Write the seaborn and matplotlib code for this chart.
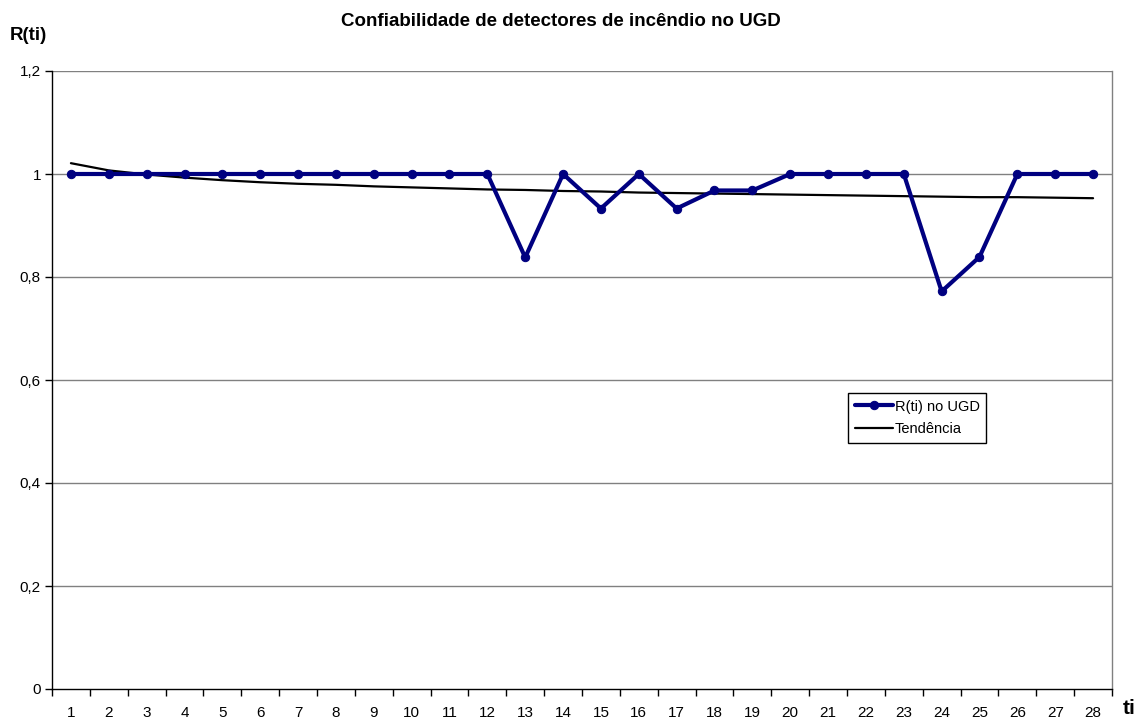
import matplotlib
matplotlib.use("Agg")
import matplotlib.pyplot as plt
import seaborn as sns
import pandas as pd
from matplotlib.ticker import FixedLocator, NullFormatter, FixedFormatter

ti = list(range(1, 29))
r_ti = [1, 1, 1, 1, 1, 1, 1, 1, 1, 1, 1, 1, 0.838, 1, 0.933, 1, 0.933, 0.968, 0.968,
        1, 1, 1, 1, 0.772, 0.839, 1, 1, 1]
tendencia = [1.021, 1.007, 0.999, 0.993, 0.988, 0.984, 0.981, 0.979, 0.976, 0.974,
             0.972, 0.970, 0.969, 0.967, 0.966, 0.964, 0.963, 0.962, 0.961, 0.960,
             0.959, 0.958, 0.957, 0.956, 0.955, 0.955, 0.954, 0.953]
y_ticks = [0, 0.2, 0.4, 0.6, 0.8, 1.0, 1.2]
y_tick_labels = ["0", "0,2", "0,4", "0,6", "0,8", "1", "1,2"]

sns.set_theme(style="white")
plt.rcParams['font.family'] = ['Liberation Sans', 'DejaVu Sans']
plt.rcParams['text.color'] = 'black'

fig = plt.figure(figsize=(11.42, 7.24), dpi=100)
ax = fig.add_axes([52/1142, 35/724, 1060/1142, 618/724])

df = pd.DataFrame({"ti": ti, "R(ti) no UGD": r_ti, "Tendência": tendencia})

for y in y_ticks[1:]:
    ax.axhline(y, color="#808080", lw=1, zorder=0)

sns.lineplot(data=df, x="ti", y="Tendência", ax=ax, color="black", lw=1.6,
             label="Tendência", zorder=2)
sns.lineplot(data=df, x="ti", y="R(ti) no UGD", ax=ax, color="#000080", lw=3,
             marker="o", markersize=6, markeredgecolor="#000080",
             label="R(ti) no UGD", zorder=3)

ax.set_xlim(0.5, 28.5)
ax.set_ylim(0, 1.2)
ax.set_xlabel("")
ax.set_ylabel("")

ax.xaxis.set_major_locator(FixedLocator([i + 0.5 for i in range(0, 29)]))
ax.xaxis.set_major_formatter(NullFormatter())
ax.xaxis.set_minor_locator(FixedLocator(ti))
ax.xaxis.set_minor_formatter(FixedFormatter([str(t) for t in ti]))
ax.tick_params(axis="x", which="major", direction="out", length=5, width=1, color="black", bottom=True)
ax.tick_params(axis="x", which="minor", length=0, labelsize=11, pad=12, colors="black", bottom=True)
ax.set_yticks(y_ticks)
ax.set_yticklabels(y_tick_labels)
ax.tick_params(axis="y", direction="out", length=5, width=1, color="black", left=True,
               labelsize=11, pad=3, labelcolor="black")

for s in ["left", "bottom"]:
    ax.spines[s].set_color("black")
    ax.spines[s].set_linewidth(1)
ax.spines["right"].set_color("#808080")
ax.spines["right"].set_linewidth(1)
ax.spines["top"].set_visible(False)

h, l = ax.get_legend_handles_labels()
leg = ax.legend(h[::-1], l[::-1], loc="upper left", bbox_to_anchor=(0.751, 0.479),
                borderaxespad=0, frameon=True, fancybox=False, edgecolor="black",
                fontsize=10.5, handlelength=2.6, handletextpad=0.15, borderpad=0.45,
                labelspacing=0.6, framealpha=1)
leg.get_frame().set_linewidth(1)

fig.text(561/1142, 1 - 22/724, "Confiabilidade de detectores de incêndio no UGD",
         ha="center", va="center", fontsize=13.5, fontweight="bold", color="black")
fig.text(10/1142, 1 - 35/724, "R(ti)", ha="left", va="center", fontsize=13.5,
         fontweight="bold", color="black")
fig.text(1129/1142, 1 - 709/724, "ti", ha="center", va="center", fontsize=15,
         fontweight="bold", color="black")

fig.savefig("out.png", dpi=100)
